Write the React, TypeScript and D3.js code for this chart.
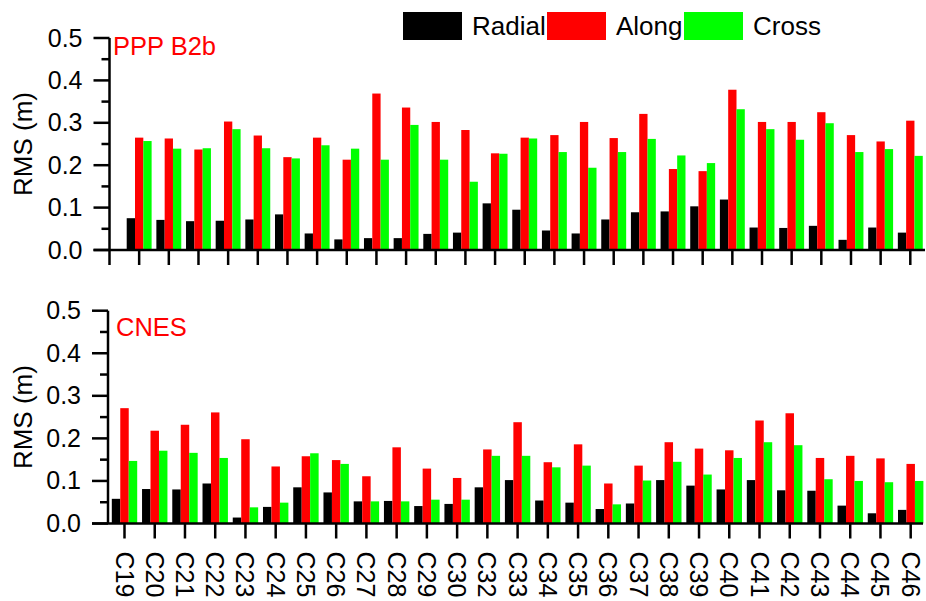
import React from "react";
import * as d3 from "d3";

const categories = ["C19","C20","C21","C22","C23","C24","C25","C26","C27","C28","C29","C30","C32","C33","C34","C35","C36","C37","C38","C39","C40","C41","C42","C43","C44","C45","C46"];

const b2bRadial = [0.075,0.071,0.068,0.069,0.072,0.084,0.039,0.025,0.028,0.028,0.038,0.041,0.110,0.095,0.046,0.039,0.072,0.089,0.091,0.103,0.119,0.053,0.052,0.057,0.024,0.053,0.041];
const b2bAlong = [0.265,0.263,0.237,0.303,0.270,0.219,0.265,0.213,0.369,0.336,0.302,0.283,0.228,0.265,0.271,0.302,0.264,0.321,0.191,0.186,0.378,0.302,0.302,0.325,0.271,0.256,0.305];
const b2bCross = [0.257,0.239,0.240,0.285,0.240,0.216,0.247,0.239,0.213,0.295,0.213,0.161,0.227,0.263,0.231,0.194,0.231,0.262,0.223,0.205,0.332,0.285,0.260,0.299,0.231,0.238,0.222];

const cnesRadial = [0.058,0.081,0.080,0.094,0.014,0.039,0.085,0.073,0.052,0.053,0.041,0.046,0.085,0.102,0.054,0.049,0.034,0.047,0.102,0.089,0.080,0.102,0.078,0.077,0.042,0.024,0.032];
const cnesAlong = [0.271,0.218,0.232,0.261,0.198,0.134,0.158,0.149,0.111,0.179,0.129,0.107,0.174,0.238,0.144,0.186,0.094,0.136,0.191,0.176,0.172,0.242,0.259,0.154,0.159,0.153,0.140];
const cnesCross = [0.147,0.171,0.166,0.154,0.038,0.049,0.165,0.140,0.052,0.052,0.056,0.056,0.159,0.159,0.132,0.136,0.045,0.101,0.145,0.115,0.154,0.191,0.184,0.104,0.100,0.097,0.100];

const yTicks = [0, 0.1, 0.2, 0.3, 0.4, 0.5];
const yMinorTicks = [0.05, 0.15, 0.25, 0.35, 0.45];
const seriesNames = ["Radial", "Along", "Cross"];
const seriesColors = ["#000000", "#ff0000", "#00ff00"];

const FONT = "Arial, 'Liberation Sans', sans-serif";

type PanelProps = {
  label: string;
  series: number[][];
  y0: number;
  y1: number;
  axisX: number;
  xDomain: [number, number];
  xRange: [number, number];
  xAxisEnd: number;
  tickIdx: number[];
  labelPos: [number, number];
  showLabels: boolean;
};

function Panel(p: PanelProps) {
  const y = d3.scaleLinear().domain([0, 0.5]).range([p.y0, p.y1]);
  const x = d3.scaleLinear().domain(p.xDomain).range(p.xRange);
  const step = x(1) - x(0);
  const bw = step * 0.28;
  const sw = 2.5;
  return (
    <g>
      {p.series.map((vals, s) =>
        vals.map((v, i) => {
          const c = x(i);
          const bx = c - 1.5 * bw + s * bw;
          return (
            <rect key={`${s}-${i}`} x={bx} y={y(v)} width={bw} height={p.y0 - y(v)} fill={seriesColors[s]} />
          );
        })
      )}
      {/* y axis */}
      <line x1={p.axisX} x2={p.axisX} y1={p.y0} y2={p.y1} stroke="#000" strokeWidth={sw} />
      {yTicks.map((t) => (
        <g key={t}>
          <line x1={p.axisX - 16} x2={p.axisX} y1={y(t)} y2={y(t)} stroke="#000" strokeWidth={sw} />
          <text x={p.axisX - 27} y={y(t) + 8.5} textAnchor="end" fontSize={25} fontFamily={FONT} fill="#000">
            {d3.format(".1f")(t)}
          </text>
        </g>
      ))}
      {yMinorTicks.map((t) => (
        <line key={t} x1={p.axisX - 8} x2={p.axisX} y1={y(t)} y2={y(t)} stroke="#000" strokeWidth={sw} />
      ))}
      {/* x axis */}
      <line x1={p.axisX - 16} x2={p.xAxisEnd} y1={p.y0} y2={p.y0} stroke="#000" strokeWidth={sw} />
      {p.tickIdx.map((i) => (
        <line key={i} x1={x(i)} x2={x(i)} y1={p.y0} y2={p.y0 + 15} stroke="#000" strokeWidth={sw} />
      ))}
      {p.showLabels &&
        categories.map((c, i) => (
          <text
            key={c}
            transform={`translate(${x(i)},${p.y0 + 28}) rotate(90)`}
            dy="0.36em"
            fontSize={25}
            fontFamily={FONT}
            fill="#000"
          >
            {c}
          </text>
        ))}
      <text
        transform={`translate(32,${(p.y0 + p.y1) / 2}) rotate(-90)`}
        textAnchor="middle"
        fontSize={26}
        fontFamily={FONT}
        fill="#000"
      >
        RMS (m)
      </text>
      <text x={p.labelPos[0]} y={p.labelPos[1]} fontSize={25.5} fontFamily={FONT} fill="#ff0000">
        {p.label}
      </text>
    </g>
  );
}

const legendX = [403, 547, 684];

export default function App() {
  const topTicks = d3.range(-1, categories.length);
  const botTicks = d3.range(0, categories.length);
  return (
    <svg
      width={926}
      height={601}
      style={{ position: "absolute", left: 0, top: 0, background: "#fff" }}
    >
      <rect width={926} height={601} fill="#fff" />
      <Panel
        label="PPP B2b"
        series={[b2bRadial, b2bAlong, b2bCross]}
        y0={250}
        y1={38}
        axisX={109.5}
        xDomain={[-1, 26]}
        xRange={[109.5, 910.3]}
        xAxisEnd={925}
        tickIdx={topTicks}
        labelPos={[113, 55]}
        showLabels={false}
      />
      <Panel
        label="CNES"
        series={[cnesRadial, cnesAlong, cnesCross]}
        y0={523.5}
        y1={310.7}
        axisX={108}
        xDomain={[0, 26]}
        xRange={[124.5, 910.7]}
        xAxisEnd={923}
        tickIdx={botTicks}
        labelPos={[116, 336]}
        showLabels={true}
      />
      {seriesNames.map((n, i) => (
        <g key={n}>
          <rect x={legendX[i]} y={12} width={59} height={28} fill={seriesColors[i]} />
          <text x={legendX[i] + 69} y={35} fontSize={26} fontFamily={FONT} fill="#000">
            {n}
          </text>
        </g>
      ))}
    </svg>
  );
}
